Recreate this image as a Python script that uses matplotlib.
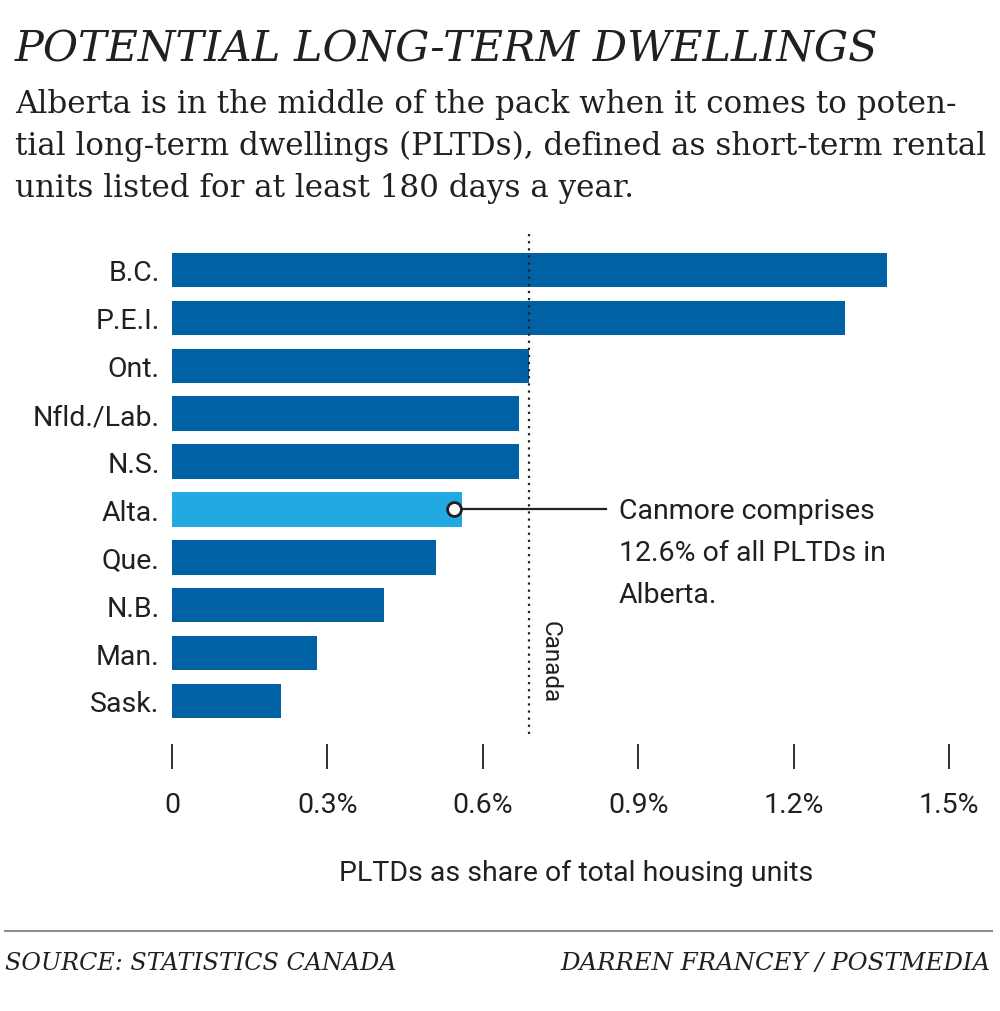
import numpy as np
import matplotlib
matplotlib.use("Agg")
import matplotlib.pyplot as plt
from matplotlib import font_manager

# data
provinces = ['B.C.', 'P.E.I.', 'Ont.', 'Nfld./Lab.', 'N.S.', 'Alta.', 'Que.', 'N.B.', 'Man.', 'Sask.']
shares = [1.38, 1.30, 0.69, 0.67, 0.67, 0.56, 0.51, 0.41, 0.28, 0.21]  # % of housing units
canada_share = 0.69
highlight = 'Alta.'
x_ticks = [0, 0.3, 0.6, 0.9, 1.2, 1.5]
x_tick_labels = ['0', '0.3%', '0.6%', '0.9%', '1.2%', '1.5%']

title = 'POTENTIAL LONG-TERM DWELLINGS'
subtitle = ['Alberta is in the middle of the pack when it comes to poten-',
            'tial long-term dwellings (PLTDs), defined as short-term rental',
            'units listed for at least 180 days a year.']
note = 'Canmore comprises\n12.6% of all PLTDs in\nAlberta.'
source = 'SOURCE: STATISTICS CANADA'
credit = 'DARREN FRANCEY / POSTMEDIA'

DARK = '#0061a5'
LIGHT = '#23a9e1'
INK = '#231f20'

installed = {f.name for f in font_manager.fontManager.ttflist}
def pick(*names):
    for n in names:
        if n in installed:
            return n
    return 'DejaVu Sans'

SANS = pick('Liberation Sans Narrow', 'Roboto')
SERIF = pick('DejaVu Serif', 'Liberation Serif')
FS = 24 if SANS == 'Liberation Sans Narrow' else 20.5

W, H = 1000, 1012
fig = plt.figure(figsize=(W / 100, H / 100), dpi=100)
fig.patch.set_facecolor('white')

def fit_width(t, width_px):
    r = fig.canvas.get_renderer()
    w = t.get_window_extent(r).width
    t.set_fontsize(t.get_fontsize() * width_px / w)

# headline
t = fig.text(15 / W, 1 - 62 / H, title, fontsize=30, style='italic', family=SERIF,
             color=INK, va='baseline', ha='left')
fit_width(t, 862)

sub = []
for i, line in enumerate(subtitle):
    sub.append(fig.text(15 / W, 1 - (113 + 42 * i) / H, line, fontsize=20, family=SERIF,
                        color=INK, va='baseline', ha='left'))
fit_width(sub[0], 970)
f1 = sub[0].get_fontsize()
fit_width(sub[1], 972)
size = min(f1, sub[1].get_fontsize())
for s in sub:
    s.set_fontsize(size)

# chart
ax = fig.add_axes([172 / W, 1 - 745 / H, (949 - 172) / W, (745 - 232) / H])
y = np.arange(len(provinces))
colors = [LIGHT if p == highlight else DARK for p in provinces]
ax.barh(y, shares, height=0.72, color=colors)
ax.set_xlim(0, 1.5)
ax.set_ylim(9.898, -0.814)
for s in ax.spines.values():
    s.set_visible(False)

ax.set_yticks(y, provinces)
ax.tick_params(axis='y', length=0, pad=9, labelsize=FS, labelcolor=INK)
ax.set_xticks(x_ticks, x_tick_labels)
ax.tick_params(axis='x', length=18, width=1.3, color=INK, pad=16, labelsize=FS, labelcolor=INK)
for lab in ax.get_xticklabels() + ax.get_yticklabels():
    lab.set_family(SANS)

# Canada average
ax.axvline(canada_share, ymin=10 / 513, ymax=1, color=INK, lw=1.6, ls=(0, (1, 2.2)))
ax.annotate('Canada', xy=(canada_share, 8.16), xytext=(15, 0), textcoords='offset points',
            rotation=270, ha='center', va='center', fontsize=FS * 0.85, family=SANS, color=INK)

# Alberta callout
ia = provinces.index(highlight)
ax.plot([shares[ia] - 0.015, 0.838], [ia, ia], color=INK, lw=1.6, zorder=3)
ax.plot([shares[ia] - 0.015], [ia], marker='o', ms=10, mfc='white', mec=INK, mew=2, zorder=4)
ax.text(0.863, ia - 0.27, note, ha='left', va='top', fontsize=FS, family=SANS, color=INK,
        linespacing=1.72)

fig.text(576 / W, 1 - 873 / H, 'PLTDs as share of total housing units', ha='center',
         va='center', fontsize=FS, family=SANS, color=INK)

# footer
fig.add_artist(plt.Line2D([5 / W, 992 / W], [1 - 932 / H, 1 - 932 / H], color='#8c8c8c', lw=1.5))
s1 = fig.text(5 / W, 1 - 970 / H, source, style='italic', family=SERIF, fontsize=14,
              color=INK, va='baseline', ha='left')
fit_width(s1, 393)
s2 = fig.text(990 / W, 1 - 970 / H, credit, style='italic', family=SERIF, fontsize=14,
              color=INK, va='baseline', ha='right')
fit_width(s2, 433)

fig.savefig('out.png', dpi=100, facecolor='white')
